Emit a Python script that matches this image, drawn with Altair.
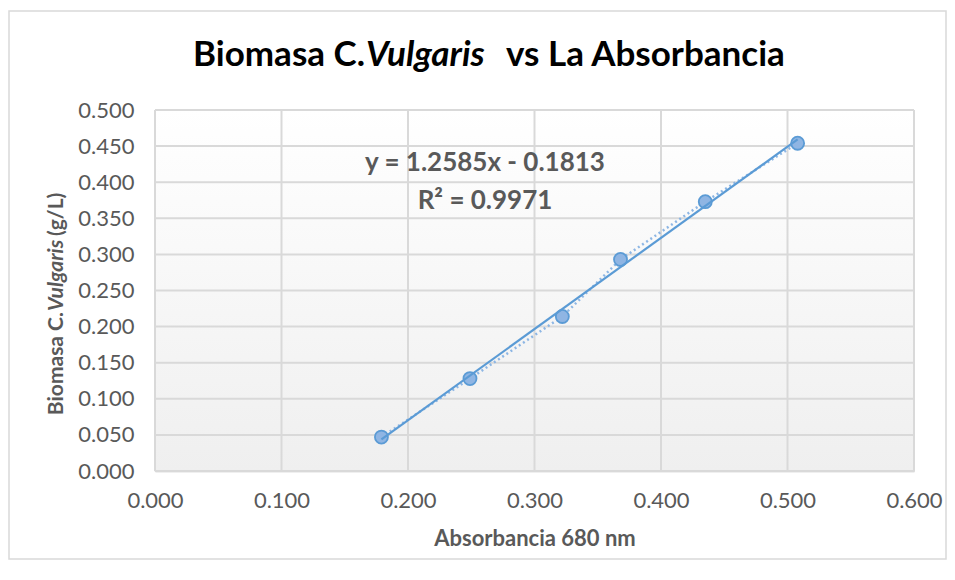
import altair as alt
import pandas as pd

# ---- data ----
absorbancia = [0.179, 0.249, 0.322, 0.368, 0.435, 0.508]
biomasa = [0.047, 0.128, 0.214, 0.293, 0.373, 0.454]
x_ticks = [0.0, 0.1, 0.2, 0.3, 0.4, 0.5, 0.6]
y_ticks = [0.0, 0.05, 0.10, 0.15, 0.20, 0.25, 0.30, 0.35, 0.40, 0.45, 0.50]
title_parts = ["Biomasa C.", "Vulgaris", "vs La Absorbancia"]
ytitle_parts = ["Biomasa C.", "Vulgaris", "(g/L)"]
x_title = "Absorbancia 680 nm"
equation_lines = ["y = 1.2585x - 0.1813", "R\u00b2 = 0.9971"]

df = pd.DataFrame({"x": absorbancia, "y": biomasa})
xt = pd.DataFrame({"t": x_ticks})
yt = pd.DataFrame({"t": y_ticks})
one = pd.DataFrame({"a": [0]})

W, H = 759, 361
FONT = "Lato"
GRAY = "#595959"

xs = alt.Scale(domain=[0, 0.6], nice=False, zero=False)
ys = alt.Scale(domain=[0, 0.5], nice=False, zero=False)

xaxis = alt.Axis(values=x_ticks, format=".3f", grid=False, ticks=False, labelFlush=False,
                 labelFont=FONT, labelFontSize=22, labelColor=GRAY, labelPadding=19,
                 domainColor="#bfbfbf", domainWidth=1.5,
                 title=x_title, titleFont=FONT, titleFontSize=22, titleFontWeight="bold",
                 titleColor=GRAY, titlePadding=17)
yaxis = alt.Axis(values=y_ticks, format=".3f", grid=False, ticks=False, labelFlush=False,
                 labelFont=FONT, labelFontSize=22, labelColor=GRAY, labelPadding=21,
                 domainColor="#bfbfbf", domainWidth=1.5, title=None)

border = alt.Chart(one).mark_rect(fill="transparent", stroke="#d9d9d9", strokeWidth=1.5).encode(
    x=alt.value(-146), x2=alt.value(W + 32), y=alt.value(-99), y2=alt.value(H + 88))

bg = alt.Chart(one).mark_rect(
    fill=alt.Gradient(gradient="linear", x1=0, x2=0, y1=0, y2=1,
                      stops=[alt.GradientStop(color="#ffffff", offset=0),
                             alt.GradientStop(color="#efefef", offset=1)])
).encode(x=alt.value(0), x2=alt.value(W), y=alt.value(0), y2=alt.value(H))

vgrid = alt.Chart(xt).mark_rule(color="#d9d9d9", strokeWidth=2).encode(
    x=alt.X("t:Q", scale=xs, axis=xaxis))
hgrid = alt.Chart(yt).mark_rule(color="#d9d9d9", strokeWidth=2).encode(
    y=alt.Y("t:Q", scale=ys, axis=yaxis))

series_line = alt.Chart(df).mark_line(color="#8db6e4", strokeWidth=2.5, strokeDash=[2, 3]).encode(
    x=alt.X("x:Q", scale=xs, axis=xaxis), y=alt.Y("y:Q", scale=ys, axis=yaxis))

points = alt.Chart(df).mark_point(shape="circle", size=170, filled=False, fill="#8fb5e3",
                                  fillOpacity=1, stroke="#5b9bd5", strokeWidth=1.8).encode(
    x=alt.X("x:Q", scale=xs, axis=xaxis), y=alt.Y("y:Q", scale=ys, axis=yaxis))

trend = alt.Chart(df).transform_regression("x", "y", method="linear").mark_line(
    color="#5b9bd5", strokeWidth=2.2).encode(
    x=alt.X("x:Q", scale=xs, axis=xaxis), y=alt.Y("y:Q", scale=ys, axis=yaxis))


def txt(s, x, y, **kw):
    return alt.Chart(pd.DataFrame({"s": [s]})).mark_text(font=FONT, **kw).encode(
        text="s:N", x=alt.value(x), y=alt.value(y))


eq1 = txt(equation_lines[0], 330, 53, fontSize=26, fontWeight="bold", color=GRAY,
          align="center", baseline="middle")
eq2 = txt(equation_lines[1], 330, 91, fontSize=26, fontWeight="bold", color=GRAY,
          align="center", baseline="middle")

t1 = txt(title_parts[0], 210, -55, fontSize=35, fontWeight="bold", color="#000000",
         align="right", baseline="middle")
t2 = txt(title_parts[1], 211, -55, fontSize=35, fontWeight="bold", fontStyle="italic",
         color="#000000", align="left", baseline="middle")
t3 = txt(title_parts[2], 351, -55, fontSize=35, fontWeight="bold", color="#000000",
         align="left", baseline="middle")

yt1 = txt(ytitle_parts[0], -98, 202, fontSize=21, fontWeight="bold", color=GRAY,
          align="right", baseline="middle", angle=270)
yt2 = txt(ytitle_parts[1], -98, 201, fontSize=21, fontWeight="bold", fontStyle="italic",
          color=GRAY, align="left", baseline="middle", angle=270)
yt3 = txt(ytitle_parts[2], -98, 126, fontSize=21, fontWeight="bold", color=GRAY,
          align="left", baseline="middle", angle=270)

chart = alt.layer(
    border, bg, vgrid, hgrid, series_line, points, trend, eq1, eq2, t1, t2, t3, yt1, yt2, yt3
).properties(
    width=W, height=H,
    autosize=alt.AutoSizeParams(type="none"),
    padding={"left": 147, "top": 102, "right": 33, "bottom": 92},
).configure_view(stroke=None)

chart.save("out.html", embed_options={"renderer": "svg", "actions": False})
